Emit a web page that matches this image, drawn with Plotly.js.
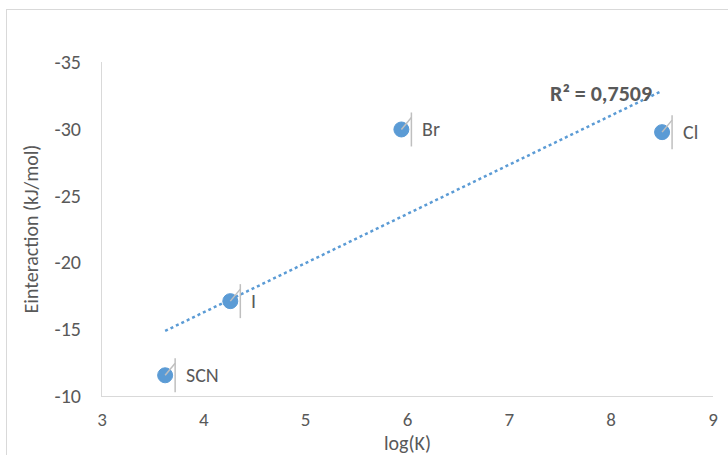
<!DOCTYPE html>
<html>
<head>
<meta charset="utf-8">
<script src="https://cdn.plot.ly/plotly-3.0.1.min.js"></script>
<style>
  html, body { margin: 0; padding: 0; background: #fff; }
  #wrap { position: relative; width: 728px; height: 455px; overflow: hidden; }
  #frame { position: absolute; left: 6px; top: 9px; width: 760px; height: 500px; border: 1px solid #d9d9d9; pointer-events: none; }
  #chart { position: absolute; left: 0; top: 0; width: 728px; height: 455px; }
</style>
</head>
<body>
<div id="wrap">
  <div id="frame"></div>
  <div id="chart"></div>
</div>
<script>
const labels = ["SCN", "I", "Br", "Cl"];
const logK = [3.62, 4.26, 5.94, 8.50];
const eInteraction = [-11.55, -17.1, -29.95, -29.75];
const r2Text = "R² = 0,7509";
const xTicks = [3, 4, 5, 6, 7, 8, 9];
const yTicks = [-10, -15, -20, -25, -30, -35];

// linear least-squares trendline (as the spreadsheet does)
const n = logK.length;
const mx = logK.reduce((a, b) => a + b, 0) / n;
const my = eInteraction.reduce((a, b) => a + b, 0) / n;
let sxy = 0, sxx = 0;
for (let i = 0; i < n; i++) { sxy += (logK[i] - mx) * (eInteraction[i] - my); sxx += (logK[i] - mx) ** 2; }
const slope = sxy / sxx, icpt = my - slope * mx;
const xMin = Math.min(...logK), xMax = Math.max(...logK);
const trendX = [xMin, xMax];
const trendY = trendX.map(x => icpt + slope * x);

const FONT = "Carlito, Calibri, 'Liberation Sans Narrow', 'Open Sans', sans-serif";
const GREY = "#595959";
const BLUE = "#5B9BD5";

const traces = [
  { x: trendX, y: trendY, mode: "lines", type: "scatter",
    line: { color: BLUE, width: 2.5, dash: "dot" }, hoverinfo: "skip" },
  { x: logK, y: eInteraction, mode: "markers", type: "scatter",
    marker: { color: BLUE, size: 15, line: { color: BLUE, width: 1 } } }
];

const shapes = [];
const annotations = [];
for (let i = 0; i < n; i++) {
  shapes.push({ type: "line", xref: "x", yref: "y", xsizemode: "pixel", ysizemode: "pixel",
    xanchor: logK[i], yanchor: eInteraction[i], x0: 0, y0: 0, x1: 10, y1: 12,
    line: { color: "#bfbfbf", width: 1.5 }, layer: "above" });
  shapes.push({ type: "line", xref: "x", yref: "y", xsizemode: "pixel", ysizemode: "pixel",
    xanchor: logK[i], yanchor: eInteraction[i], x0: 10, y0: -17, x1: 10, y1: 17,
    line: { color: "#bfbfbf", width: 1.5 }, layer: "above" });
  annotations.push({ x: logK[i], y: eInteraction[i], xref: "x", yref: "y", text: labels[i],
    showarrow: false, xanchor: "left", yanchor: "middle", xshift: 19,
    font: { family: FONT, size: 20, color: GREY } });
}
annotations.push({ x: trendX[1], y: trendY[1], xref: "x", yref: "y", text: "<b>" + r2Text + "</b>",
  showarrow: false, xanchor: "right", yanchor: "middle", xshift: -8, yshift: -3,
  font: { family: FONT, size: 22, color: GREY } });

const layout = {
  width: 728, height: 455,
  margin: { l: 102, r: 15, t: 62, b: 59 },
  paper_bgcolor: "rgba(0,0,0,0)", plot_bgcolor: "rgba(0,0,0,0)",
  showlegend: false,
  font: { family: FONT, size: 20, color: GREY },
  xaxis: {
    range: [3, 9], tickvals: xTicks, ticktext: xTicks.map(String),
    tickfont: { family: FONT, size: 19, color: GREY },
    showgrid: false, zeroline: false, showline: true, linecolor: "#d9d9d9", linewidth: 1,
    ticks: "", ticklabelstandoff: 6,
    title: { text: "log(K)", font: { family: FONT, size: 20, color: GREY }, standoff: 4 }
  },
  yaxis: {
    range: [-10, -35], tickvals: yTicks, ticktext: yTicks.map(String),
    showgrid: false, zeroline: false, showline: true, linecolor: "#d9d9d9", linewidth: 1,
    ticks: "", ticklabelstandoff: 16,
    title: { text: "Einteraction (kJ/mol)", font: { family: FONT, size: 20, color: GREY }, standoff: 10 }
  },
  shapes: shapes,
  annotations: annotations
};

Plotly.newPlot("chart", traces, layout, { staticPlot: true, displayModeBar: false });
</script>
</body>
</html>
